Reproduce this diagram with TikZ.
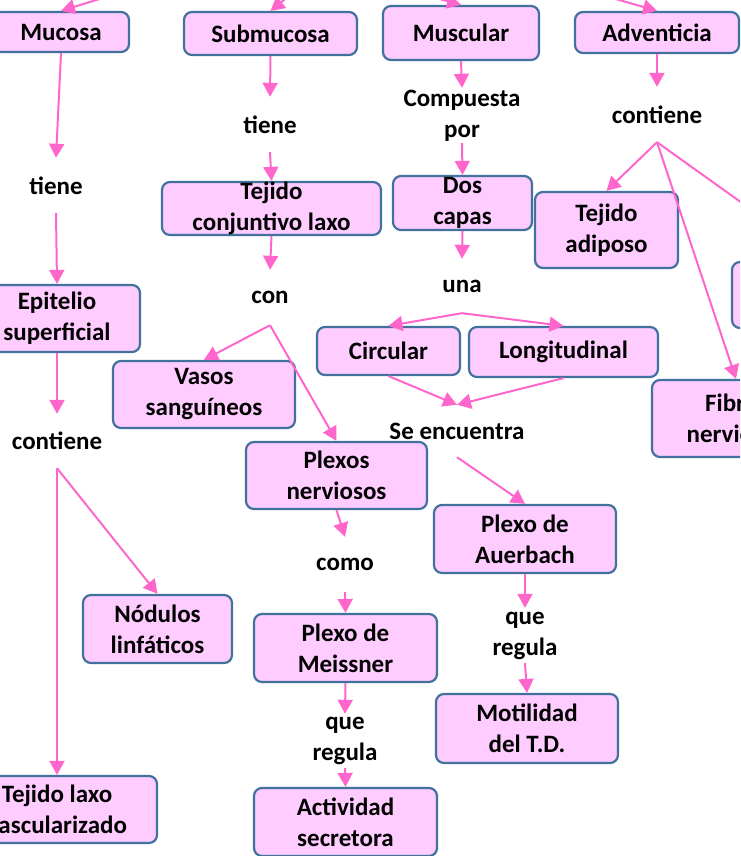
\documentclass[tikz,border=0pt]{standalone}
\usepackage{fontspec}
\setmainfont{Carlito}
\usepackage{tikz}
\usetikzlibrary{arrows.meta}
\definecolor{boxfill}{HTML}{FFCCFF}
\definecolor{boxline}{HTML}{41719C}
\definecolor{arrpink}{HTML}{FF66CC}
\tikzset{
  txt/.style  ={font=\bfseries\fontsize{25}{31}\selectfont,align=center},
  blk/.style  ={txt,draw=boxline,fill=boxfill,line width=2.2pt,rounded corners=8pt,inner sep=0pt},
  lnk/.style  ={txt,inner sep=0pt,minimum height=55pt},
  flow/.style ={-{Triangle[length=14pt,width=15pt]},draw=arrpink,line width=2pt},
}

\begin{document}
\begin{tikzpicture}[x=1pt,y=-1pt]
  \path[use as bounding box,clip] (0,0) rectangle (740,856);
  % layers of the wall
  \node[blk,minimum width=136pt,minimum height=40pt] (muc) at (61,32) {Mucosa};
  \node[blk,minimum width=173pt,minimum height=43pt] (sub) at (270.5,33.5) {Submucosa};
  \node[blk,minimum width=156pt,minimum height=54pt] (mus) at (461,33) {Muscular};
  \node[blk,minimum width=164pt,minimum height=41pt] (adv) at (657,32.5) {Adventicia};
  % the source above is outside the view
  \coordinate (in1) at (106,-3);
  \coordinate (in2) at (290,-5);
  \coordinate (in3) at (425,-5);
  \coordinate (in4) at (602,-5);
  \draw[flow] (in1) -- (muc.north);
  \draw[flow] (in2) -- (sub.north);
  \draw[flow] (in3) -- (mus.north);
  \draw[flow] (in4) -- (adv.north);

  % mucosa
  \node[lnk] (tiene1) at (56,185.5) {tiene};
  \node[blk,minimum width=166pt,minimum height=67pt] (epi) at (57,318.5) {Epitelio\\superficial};
  \node[lnk,minimum height=54pt] (cont1) at (57,441) {contiene};
  \node[blk,minimum width=149pt,minimum height=68pt] (nod) at (157.5,629) {Nódulos\\linfáticos};
  \node[blk,minimum width=200pt,minimum height=67pt] (tlv) at (57,809.5) {Tejido laxo\\vascularizado};
  \draw[flow] (muc.south) -- (tiene1.north);
  \draw[flow] (tiene1.south) -- (epi.north);
  \draw[flow] (epi.south) -- (cont1.north);
  \draw[flow] (cont1.south) -- (nod.north);
  \draw[flow] (cont1.south) -- (tlv.north);

  % submucosa
  \node[lnk] (tiene2) at (270,124.5) {tiene};
  \node[blk,minimum width=219pt,minimum height=53pt,
        label={[txt]center:Tejido\\conjuntivo laxo}] (tcl) at (271.5,208.5) {};
  \node[lnk] (con) at (270,297.5) {con};
  \node[blk,minimum width=182pt,minimum height=67pt] (vas) at (204,394.5) {Vasos\\sanguíneos};
  \node[blk,minimum width=181pt,minimum height=67pt] (ple) at (336.5,475.5) {Plexos\\nerviosos};
  \node[lnk] (como) at (345,564.5) {como};
  \node[blk,minimum width=183pt,minimum height=68pt] (mei) at (345.5,648) {Plexo de\\Meissner};
  \node[lnk,minimum height=54pt] (qr1) at (345,741) {que\\regula};
  \node[blk,minimum width=183pt,minimum height=68pt] (act) at (345.5,822) {Actividad\\secretora};
  \draw[flow] (sub.south) -- (tiene2.north);
  \draw[flow] (tiene2.south) -- (tcl.north);
  \draw[flow] (tcl.south) -- (con.north);
  \draw[flow] (con.south) -- (vas.north);
  \draw[flow] (con.south) -- (ple.north);
  \draw[flow] (ple.south) -- (como.north);
  \draw[flow] (como.south) -- (mei.north);
  \draw[flow] (mei.south) -- (qr1.north);
  \draw[flow] (qr1.south) -- (act.north);

  % muscular
  \node[lnk] (cp) at (462,115.5) {Compuesta\\por};
  \node[blk,minimum width=139pt,minimum height=54pt,
        label={[txt]center:Dos\\capas}] (dos) at (462.5,203) {};
  \node[lnk,minimum height=54pt] (una) at (462,286) {una};
  \node[blk,minimum width=143pt,minimum height=48pt] (cir) at (388.5,351) {Circular};
  \node[blk,minimum width=189pt,minimum height=50pt] (lon) at (563.5,352) {Longitudinal};
  \node[lnk,minimum height=52pt] (se) at (457,431) {Se encuentra};
  \node[blk,minimum width=182pt,minimum height=68pt] (aue) at (525,539) {Plexo de\\Auerbach};
  \node[lnk] (qr2) at (525,635.5) {que\\regula};
  \node[blk,minimum width=182pt,minimum height=69pt] (mot) at (527,728.5) {Motilidad\\del T.D.};
  \draw[flow] (mus.south) -- (cp.north);
  \draw[flow] (cp.south) -- (dos.north);
  \draw[flow] (dos.south) -- (una.north);
  \draw[flow] (una.south) -- (cir.north);
  \draw[flow] (una.south) -- (lon.north);
  \draw[flow] (cir.south) -- (se.north);
  \draw[flow] (lon.south) -- (se.north);
  \draw[flow] (se.south) -- (aue.north);
  \draw[flow] (aue.south) -- (qr2.north);
  \draw[flow] (qr2.south) -- (mot.north);

  % adventicia
  \node[lnk] (cont2) at (657,114.5) {contiene};
  \node[blk,minimum width=143pt,minimum height=76pt] (tad) at (606.5,230) {Tejido\\adiposo};
  \node[blk,minimum width=182pt,minimum height=66pt] (rbox) at (823,295) {};
  \node[blk,minimum width=168pt,minimum height=77pt] (fib) at (736,418.5) {Fibras\\nerviosas};
  \draw[flow] (adv.south) -- (cont2.north);
  \draw[flow] (cont2.south) -- (tad.north);
  \draw[flow] (cont2.south) -- (rbox.north);
  \draw[flow] (cont2.south) -- (fib.north);
\end{tikzpicture}
\end{document}
